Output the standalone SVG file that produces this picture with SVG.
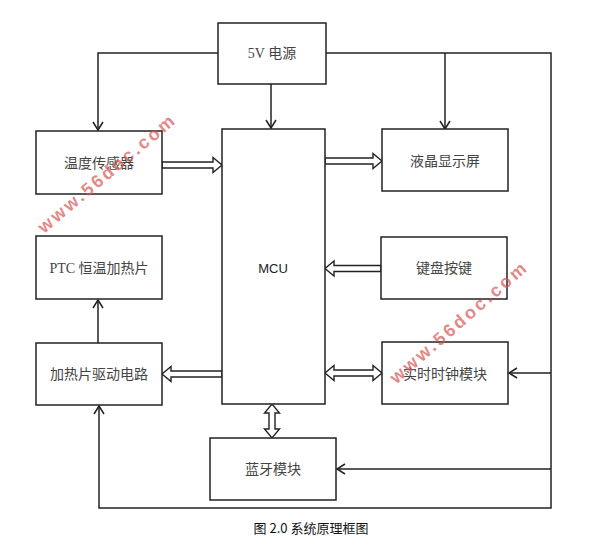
<svg xmlns="http://www.w3.org/2000/svg" width="597" height="558" viewBox="0 0 597 558">
<style>
.box{fill:#fff;stroke:#222;stroke-width:1.5}
.lbl{font-family:"Liberation Serif","Noto Sans CJK SC",serif;font-size:14px;fill:#444;text-anchor:middle;dominant-baseline:central}
.mcu{font-family:"Liberation Sans","Noto Sans CJK SC",sans-serif;font-size:13px;fill:#222;text-anchor:middle;dominant-baseline:central}
.wire{fill:none;stroke:#222;stroke-width:1.5}
.hollow{fill:#fff;stroke:#222;stroke-width:1.4;stroke-linejoin:miter}
.cap{font-family:"Noto Sans CJK SC","Liberation Sans",sans-serif;font-size:13px;fill:#111;text-anchor:middle}
.wm{font-family:"Liberation Sans",sans-serif;font-weight:bold;font-size:18px;fill:#d9534f;fill-opacity:0.7;text-anchor:middle;dominant-baseline:central}
</style>
<defs>
<marker id="arr" markerWidth="12" markerHeight="12" refX="9" refY="6" orient="auto" markerUnits="userSpaceOnUse">
<path d="M1,1 L9,6 L1,11" fill="none" stroke="#222" stroke-width="1.5"/>
</marker>
</defs>
<rect width="597" height="558" fill="#fff"/>

<g id="connectors">
<path class="wire" d="M218,53 H98 V130" marker-end="url(#arr)"/>
<path class="wire" d="M271,84 V128" marker-end="url(#arr)"/>
<path class="wire" d="M326,53 H551 V508 H99 V406" marker-end="url(#arr)"/>
<path class="wire" d="M445,53 V129" marker-end="url(#arr)"/>
<path class="wire" d="M98,343 V300" marker-end="url(#arr)"/>
<path class="wire" d="M551,373 H509" marker-end="url(#arr)"/>
<path class="wire" d="M551,469 H337" marker-end="url(#arr)"/>
<path class="hollow" d="M162,162 H213 V157.5 L222,165 L213,172.5 V168 H162 Z"/>
<path class="hollow" d="M325,158 H373 V153.5 L382,161 L373,168.5 V164 H325 Z"/>
<path class="hollow" d="M381,265.5 H334 V261 L325,268.5 L334,276 V271.5 H381 Z"/>
<path class="hollow" d="M222,371 H171 V366.5 L162,374 L171,381.5 V377 H222 Z"/>
<path class="hollow" d="M334,370 H373 V365.5 L382,373 L373,380.5 V376 H334 V380.5 L325,373 L334,365.5 Z"/>
<path class="hollow" d="M269,413 V429 H264.5 L272,438 L279.5,429 H275 V413 H279.5 L272,404 L264.5,413 Z"/>
</g>

<g id="n5v"><rect class="box" x="218" y="23" width="108" height="61"/><text class="lbl" x="272" y="53">5V 电源</text></g>
<g id="ntemp"><rect class="box" x="36" y="131" width="126" height="63"/><text class="lbl" x="99" y="163">温度传感器</text></g>
<g id="nmcu"><rect class="box" x="222" y="129" width="103" height="275"/><text class="mcu" x="273" y="268">MCU</text></g>
<g id="nlcd"><rect class="box" x="382" y="129" width="126" height="62"/><text class="lbl" x="445" y="161">液晶显示屏</text></g>
<g id="nptc"><rect class="box" x="36" y="236" width="126" height="63"/><text class="lbl" x="99" y="268">PTC 恒温加热片</text></g>
<g id="nkey"><rect class="box" x="381" y="237" width="126" height="62"/><text class="lbl" x="444" y="268">键盘按键</text></g>
<g id="nheat"><rect class="box" x="36" y="343" width="126" height="62"/><text class="lbl" x="99" y="374">加热片驱动电路</text></g>
<g id="nrtc"><rect class="box" x="382" y="342" width="126" height="62"/><text class="lbl" x="445" y="374">实时时钟模块</text></g>
<g id="nbt"><rect class="box" x="210" y="438" width="126" height="62"/><text class="lbl" x="273" y="469">蓝牙模块</text></g>

<text class="wm" x="106" y="174" transform="rotate(-40 106 174)" textLength="172" lengthAdjust="spacing">www.56doc.com</text>
<text class="wm" x="458" y="323" transform="rotate(-41 458 323)" textLength="174" lengthAdjust="spacing">www.56doc.com</text>

<text class="cap" x="311" y="533">图 2.0 系统原理框图</text>
</svg>
